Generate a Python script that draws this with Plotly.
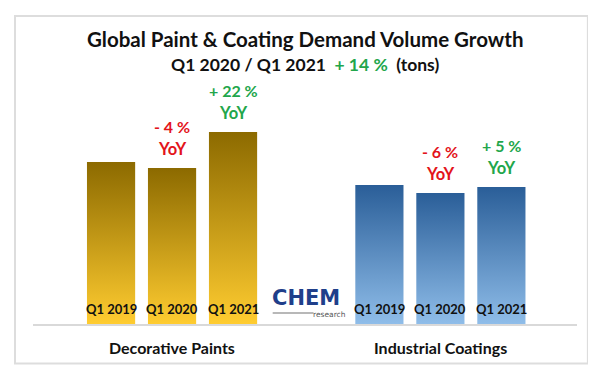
import plotly.graph_objects as go

# ---- data ----
groups = ["Decorative Paints", "Industrial Coatings"]
quarters = ["Q1 2019", "Q1 2020", "Q1 2021"]
decorative_values = [162, 156, 192]
industrial_values = [139, 131, 137]
decorative_yoy = [None, "- 4 %", "+ 22 %"]
industrial_yoy = [None, "- 6 %", "+ 5 %"]
title_text = "Global Paint & Coating Demand Volume Growth"
subtitle_left = "Q1 2020 / Q1 2021"
subtitle_growth = "+ 14 %"
subtitle_unit = "(tons)"

# ---- styling ----
FONT = "Lato"
GROUP_GAP = 4.4
BAR_W = 0.79
GOLD = [[0, "#ffcc30"], [1, "#8c6a00"]]
BLUE = [[0, "#8fbde9"], [1, "#2a5e98"]]
RED = "#e3141b"
GREEN = "#22a64b"

fig = go.Figure()
annotations = []

series = [
    (decorative_values, decorative_yoy, GOLD, 0.0),
    (industrial_values, industrial_yoy, BLUE, GROUP_GAP),
]
for values, yoy, cs, offset in series:
    for i, (q, v) in enumerate(zip(quarters, values)):
        xc = offset + i
        x0, x1 = xc - BAR_W / 2, xc + BAR_W / 2
        fig.add_trace(go.Scatter(
            x=[x0, x0, x1, x1, x0], y=[0, v, v, 0, 0],
            mode="lines", line=dict(width=0), fill="toself",
            fillgradient=dict(type="vertical", colorscale=cs, start=0, stop=v),
            hoverinfo="skip", showlegend=False,
        ))
        annotations.append(dict(x=xc, y=0, xref="x", yref="y", text=f"<b>{q}</b>",
                                showarrow=False, yshift=15,
                                font=dict(family=FONT, size=13, color="#111")))
        if yoy[i]:
            col = GREEN if yoy[i].startswith("+") else RED
            annotations.append(dict(x=xc, y=v, xref="x", yref="y", text=f"<b>{yoy[i]}</b>",
                                    showarrow=False, yshift=42,
                                    font=dict(family=FONT, size=16, color=col)))
            annotations.append(dict(x=xc, y=v, xref="x", yref="y", text="<b>YoY</b>",
                                    showarrow=False, yshift=19,
                                    font=dict(family=FONT, size=16.5, color=col)))

for gi, g in enumerate(groups):
    annotations.append(dict(x=gi * GROUP_GAP + 1, y=0, xref="x", yref="y",
                            text=f"<b>{g}</b>", showarrow=False, yshift=-23,
                            font=dict(family=FONT, size=16, color="#111")))

# titles
annotations.append(dict(x=0.5, y=1.17, xref="paper", yref="paper", text=f"<b>{title_text}</b>",
                        showarrow=False, yanchor="middle",
                        font=dict(family=FONT, size=20.5, color="#111")))
sp = "\u00a0\u00a0"
annotations.append(dict(x=0.5, y=1.065, xref="paper", yref="paper",
                        text=f"<b>{subtitle_left}{sp}<span style='color:{GREEN}'>{subtitle_growth}</span>{sp}{subtitle_unit}</b>",
                        showarrow=False, yanchor="middle",
                        font=dict(family=FONT, size=17.5, color="#111")))

# logo
logo_x = (2 + GROUP_GAP) / 2
annotations.append(dict(x=logo_x, y=0, xref="x", yref="y", text="<b>CHEM</b>",
                        showarrow=False, yshift=26,
                        font=dict(family="DejaVu Sans", size=21, color="#1f3f8a")))
annotations.append(dict(x=logo_x + 0.38, y=0, xref="x", yref="y", text="research",
                        showarrow=False, yshift=10,
                        font=dict(family="DejaVu Sans", size=7.5, color="#555")))

shapes = [
    dict(type="line", xref="x", yref="y", x0=logo_x - 0.55, x1=logo_x + 0.12, y0=11, y1=11,
         line=dict(color="#b8b8b8", width=2)),
    dict(type="rect", xref="paper", yref="paper", x0=-0.0331, x1=1.02, y0=-0.162, y1=1.262,
         line=dict(color="#dddddd", width=2)),
]

# the page body adds an 8px offset, so margins are reduced by 8px on left/top
fig.update_layout(
    width=596, height=374,
    margin=dict(l=25, r=27, t=72, b=58),
    paper_bgcolor="white", plot_bgcolor="white",
    xaxis=dict(range=[-1.28, 7.64], visible=True, showgrid=False, zeroline=False,
               showticklabels=False, ticks="", showline=True, linecolor="#d9d9d9",
               linewidth=2, fixedrange=True),
    yaxis=dict(range=[0, 244], visible=False, fixedrange=True),
    annotations=annotations, shapes=shapes,
    showlegend=False,
)

fig.write_html("out.html")
